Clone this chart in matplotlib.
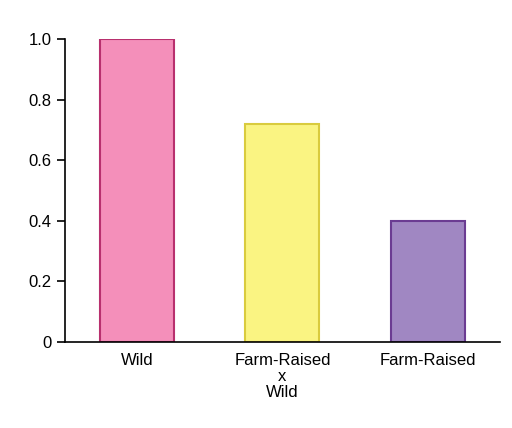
import matplotlib
matplotlib.use("Agg")
import matplotlib.pyplot as plt

categories = ["Wild", "Farm-Raised\nx\nWild", "Farm-Raised"]
values = [1.0, 0.72, 0.40]
face_colors = ["#F48FBA", "#FAF482", "#A087C2"]
edge_colors = ["#B8306E", "#D9CB3E", "#6B3C92"]

plt.rcParams['font.family'] = ['Liberation Sans', 'DejaVu Sans']
fig = plt.figure(figsize=(5.12, 4.28), dpi=100)
ax = fig.add_axes([0.127, 0.201, 0.85, 0.708])
x = range(len(categories))
ax.bar(x, values, width=0.51, color=face_colors, edgecolor=edge_colors, linewidth=1.5)
ax.set_xlim(-0.497, 2.5)
ax.set_ylim(0, 1.0)
ax.set_yticks([0, 0.2, 0.4, 0.6, 0.8, 1.0])
ax.set_yticklabels(["0", "0.2", "0.4", "0.6", "0.8", "1.0"], fontsize=12)
ax.set_xticks(list(x))
ax.set_xticklabels(categories, fontsize=12, linespacing=1.1)
ax.tick_params(axis='x', length=0, pad=8)
ax.tick_params(axis='y', length=6, width=1.2, direction='out')
for s in ['top', 'right']:
    ax.spines[s].set_visible(False)
for s in ['left', 'bottom']:
    ax.spines[s].set_linewidth(1.2)
fig.savefig("out.png", dpi=100)
